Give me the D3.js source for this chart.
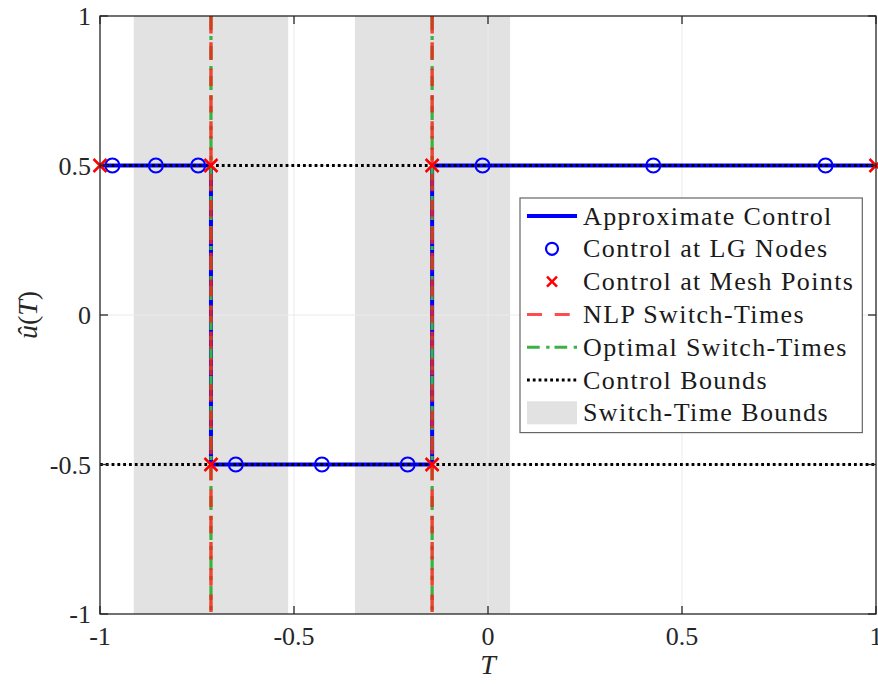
<!DOCTYPE html>
<html><head><meta charset="utf-8">
<script src="https://cdn.jsdelivr.net/npm/d3@7"></script>
<style>body{margin:0;background:#fff}svg{display:block}svg text{font-family:"Liberation Serif";}</style>
</head><body><svg id="c" width="878" height="684"></svg>
<script>
const tTicks=[-1,-0.5,0,0.5,1];
const uTicks=[-1,-0.5,0,0.5,1];
const switchBounds=[[-0.913,-0.515],[-0.343,0.057]];
const nlpSwitch=[-0.714,-0.144];
const optSwitch=[-0.714,-0.144];
const controlT=[-1,-0.714,-0.714,-0.144,-0.144,1];
const controlU=[0.5,0.5,-0.5,-0.5,0.5,0.5];
const lgT=[-0.968,-0.856,-0.747,-0.650,-0.428,-0.207,-0.014,0.426,0.870];
const lgU=[0.5,0.5,0.5,-0.5,-0.5,-0.5,0.5,0.5,0.5];
const meshT=[-1,-0.714,-0.714,-0.144,-0.144,1];
const meshU=[0.5,0.5,-0.5,-0.5,0.5,0.5];
const controlBounds=[-0.5,0.5];
const legendLabels=["Approximate Control","Control at LG Nodes","Control at Mesh Points","NLP Switch-Times","Optimal Switch-Times","Control Bounds","Switch-Time Bounds"];

const svg=d3.select("#c");
const L=100,R=876,T=16,B=614;
const x=d3.scaleLinear().domain([-1,1]).range([L,R]);
const y=d3.scaleLinear().domain([-1,1]).range([B,T]);
const g=svg.append("g");
svg.append("clipPath").attr("id","pc").append("rect").attr("x",L).attr("y",T).attr("width",R-L).attr("height",B-T);

g.selectAll(".band").data(switchBounds).join("rect")
 .attr("x",d=>x(d[0])).attr("width",d=>x(d[1])-x(d[0])).attr("y",T).attr("height",B-T).attr("fill","#e2e2e2");
g.selectAll(".gx").data(tTicks.slice(1,-1)).join("line").attr("x1",d=>x(d)).attr("x2",d=>x(d)).attr("y1",T).attr("y2",B).attr("stroke","#ebebeb").attr("stroke-width",1);
g.selectAll(".gy").data(uTicks.slice(1,-1)).join("line").attr("y1",d=>y(d)).attr("y2",d=>y(d)).attr("x1",L).attr("x2",R).attr("stroke","#ebebeb").attr("stroke-width",1);

const pg=svg.append("g").attr("clip-path","url(#pc)");
const line=d3.line().x(d=>x(d[0])).y(d=>y(d[1]));
const ctrl=controlT.map((t,i)=>[t,controlU[i]]);
pg.append("path").attr("d",line(ctrl)).attr("fill","none").attr("stroke","#0000ff").attr("stroke-width",4);
controlBounds.forEach(b=>{
 pg.append("line").attr("x1",x(-1)).attr("x2",x(1)).attr("y1",y(b)).attr("y2",y(b)).attr("stroke","#000").attr("stroke-width",2.8).attr("stroke-dasharray","2.8,3");
});
optSwitch.forEach(s=>{
 pg.append("line").attr("x1",x(s)).attr("x2",x(s)).attr("y1",T).attr("y2",B).attr("stroke","#3cb043").attr("stroke-width",3.2).attr("stroke-dasharray","14,6,4,6");
});
nlpSwitch.forEach(s=>{
 pg.append("line").attr("x1",x(s)).attr("x2",x(s)).attr("y1",T).attr("y2",B).attr("stroke","#f02818").attr("stroke-opacity",0.85).attr("stroke-width",3.4).attr("stroke-dasharray","17.5,8.8");
});
svg.selectAll(".lg").data(lgT.map((t,i)=>[t,lgU[i]])).join("circle")
 .attr("cx",d=>x(d[0])).attr("cy",d=>y(d[1])).attr("r",7).attr("fill","none").attr("stroke","#0000ff").attr("stroke-width",2);
const xm=6.5;
svg.selectAll(".mesh").data(meshT.map((t,i)=>[t,meshU[i]])).join("path")
 .attr("d",d=>{const cx=x(d[0]),cy=y(d[1]);return `M${cx-xm},${cy-xm}L${cx+xm},${cy+xm}M${cx-xm},${cy+xm}L${cx+xm},${cy-xm}`;})
 .attr("stroke","#ff0000").attr("stroke-width",2.5).attr("fill","none");

const ax=svg.append("g");
ax.append("rect").attr("x",L).attr("y",T).attr("width",R-L).attr("height",B-T).attr("fill","none").attr("stroke","#262626").attr("stroke-width",1.3);
const tl=8;
const fmt=v=>String(v);
tTicks.forEach(t=>{
 ax.append("line").attr("x1",x(t)).attr("x2",x(t)).attr("y1",B).attr("y2",B-tl).attr("stroke","#262626").attr("stroke-width",1.3);
 ax.append("line").attr("x1",x(t)).attr("x2",x(t)).attr("y1",T).attr("y2",T+tl).attr("stroke","#262626").attr("stroke-width",1.3);
 ax.append("text").attr("x",x(t)).attr("y",B+31).attr("text-anchor","middle").attr("font-size",26).attr("fill","#262626").text(fmt(t));
});
uTicks.forEach(u=>{
 ax.append("line").attr("y1",y(u)).attr("y2",y(u)).attr("x1",L).attr("x2",L+tl).attr("stroke","#262626").attr("stroke-width",1.3);
 ax.append("line").attr("y1",y(u)).attr("y2",y(u)).attr("x1",R).attr("x2",R-tl).attr("stroke","#262626").attr("stroke-width",1.3);
 ax.append("text").attr("x",L-9).attr("y",y(u)+9).attr("text-anchor","end").attr("font-size",26).attr("fill","#262626").text(fmt(u));
});
ax.append("text").attr("x",(L+R)/2).attr("y",674).attr("text-anchor","middle").attr("font-size",28).attr("font-style","italic").attr("fill","#262626").text("T");
const yl=ax.append("text").attr("transform",`translate(37,${(T+B)/2}) rotate(-90)`).attr("text-anchor","middle").attr("font-size",28).attr("fill","#262626");
yl.append("tspan").attr("font-style","italic").text("û");
yl.append("tspan").text("(");
yl.append("tspan").attr("font-style","italic").text("T");
yl.append("tspan").text(")");

const lg=svg.append("g");
const lx=520,ly=198,rowH=32.8,fs=26;
const box=lg.append("rect").attr("x",lx).attr("y",ly).attr("fill","#fff").attr("stroke","#666").attr("stroke-width",1.2);
let maxW=0;
legendLabels.forEach((lab,i)=>{
 const cy=ly+18+i*rowH;
 const s0=lx+7,s1=lx+57;
 if(i===0) lg.append("line").attr("x1",s0).attr("x2",s1).attr("y1",cy).attr("y2",cy).attr("stroke","#0000ff").attr("stroke-width",4);
 if(i===1) lg.append("circle").attr("cx",(s0+s1)/2).attr("cy",cy).attr("r",6).attr("fill","none").attr("stroke","#0000ff").attr("stroke-width",2.2);
 if(i===2){const cx=(s0+s1)/2,h=5;lg.append("path").attr("d",`M${cx-h},${cy-h}L${cx+h},${cy+h}M${cx-h},${cy+h}L${cx+h},${cy-h}`).attr("stroke","#ff0000").attr("stroke-width",2.5);}
 if(i===3) lg.append("line").attr("x1",s0).attr("x2",s1).attr("y1",cy).attr("y2",cy).attr("stroke","#ff1010").attr("stroke-opacity",0.75).attr("stroke-width",3).attr("stroke-dasharray","15,12.7");
 if(i===4) lg.append("line").attr("x1",s0).attr("x2",s1).attr("y1",cy).attr("y2",cy).attr("stroke","#3cb043").attr("stroke-width",3).attr("stroke-dasharray","12.7,6.5,3.3,5");
 if(i===5) lg.append("line").attr("x1",s0).attr("x2",s1).attr("y1",cy).attr("y2",cy).attr("stroke","#000").attr("stroke-width",2.8).attr("stroke-dasharray","2.8,3");
 if(i===6) lg.append("rect").attr("x",s0).attr("y",cy-11.5).attr("width",50).attr("height",23).attr("fill","#e2e2e2");
 const t=lg.append("text").attr("x",lx+63).attr("y",cy+8.5).attr("font-size",fs).attr("fill","#1a1a1a").attr("letter-spacing",1.4).text(lab);
 maxW=Math.max(maxW,t.node().getComputedTextLength());
});
box.attr("width",63+maxW+8).attr("height",rowH*7+5);
</script></body></html>
